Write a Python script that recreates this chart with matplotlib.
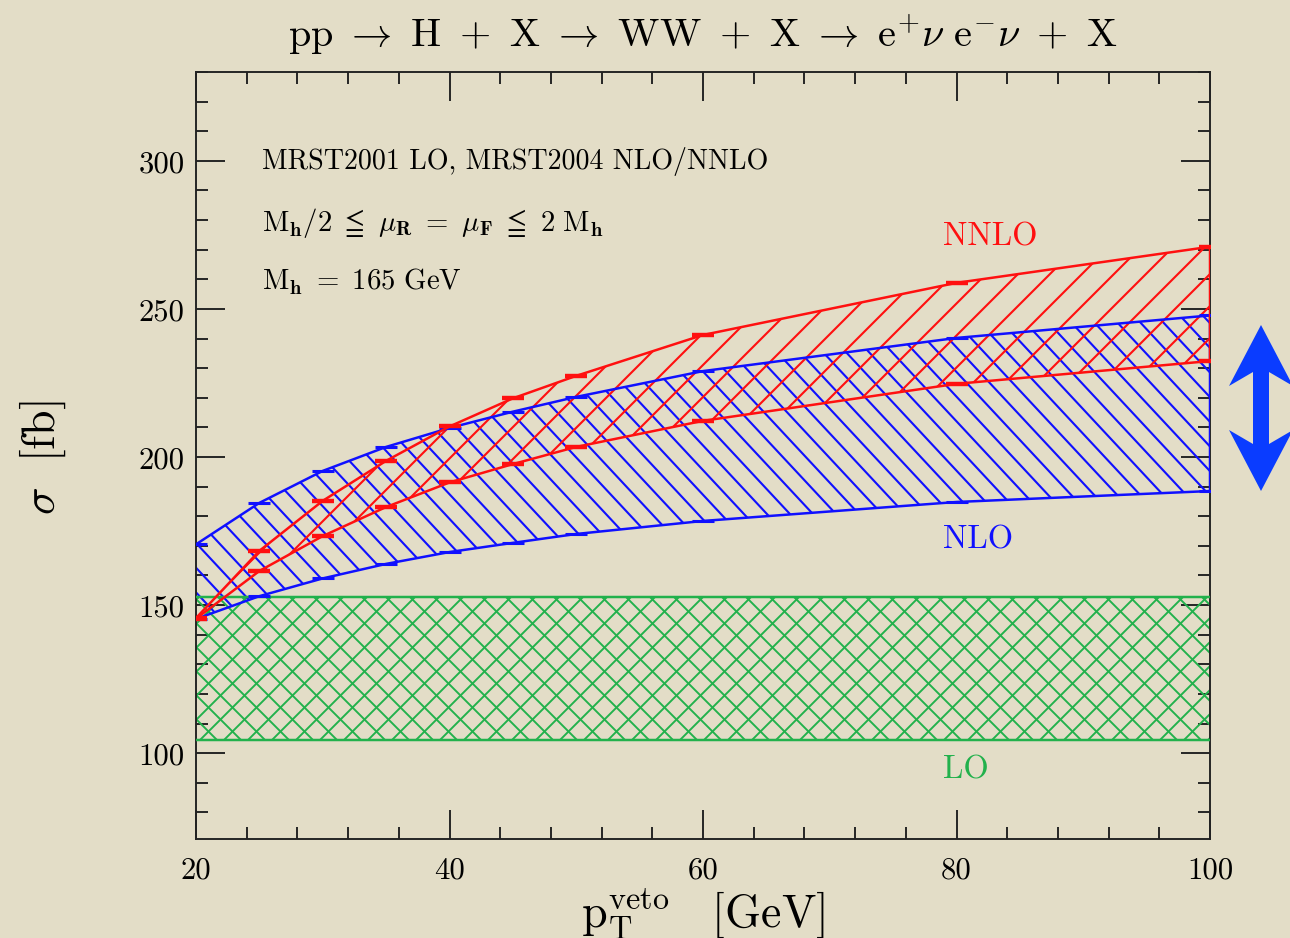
import numpy as np
import matplotlib
matplotlib.use("Agg")
import matplotlib.pyplot as plt
from matplotlib.collections import LineCollection
from matplotlib.patches import Polygon
from matplotlib.ticker import MultipleLocator

# cross sections [fb] vs. jet-veto pT [GeV]
pt_veto = [20, 25, 30, 35, 40, 45, 50, 60, 80, 100]
nlo_hi = [170.5, 184.5, 195.3, 203.4, 209.8, 215.3, 220.3, 229.0, 240.2, 247.8]
nlo_lo = [145.3, 153.0, 159.0, 163.9, 167.9, 171.0, 174.0, 178.4, 184.8, 188.5]
nnlo_hi = [145.6, 168.3, 185.2, 198.7, 210.3, 219.8, 227.4, 241.2, 258.8, 271.0]
nnlo_lo = [145.4, 161.5, 173.3, 183.1, 191.4, 197.6, 203.4, 212.2, 224.7, 232.4]
lo_band = [104.4, 152.7]

xticks = [20, 40, 60, 80, 100]
yticks = [100, 150, 200, 250, 300]

BG = "#e3ddc7"
RED = "#ff1010"
BLUE = "#1010ff"
GREEN = "#22b14c"

plt.rcParams["mathtext.fontset"] = "cm"
plt.rcParams["axes.formatter.use_mathtext"] = True
FONT = "cmr10"

DPI = 138
fig = plt.figure(figsize=(1290 / DPI, 939 / DPI), dpi=DPI, facecolor=BG)
ax = fig.add_axes([196 / 1290, 99 / 939, 1014 / 1290, 767 / 939])
ax.set_facecolor("none")
ax.set_xlim(20, 100)
ax.set_ylim(71, 330)


def hatch(poly, spacing, direction, color, lw=1.1, angle=45):
    "Fill `poly` with parallel lines `spacing` pixels apart."
    W, H = ax.bbox.width, ax.bbox.height
    run = H / np.tan(np.radians(angle))
    segs = []
    for c in np.arange(-run - spacing, W + spacing, spacing):
        if direction > 0:
            segs.append([(c / W, 0), ((c + run) / W, 1)])
        else:
            segs.append([(c / W, 1), ((c + run) / W, 0)])
    lc = LineCollection(segs, colors=color, linewidths=lw,
                        transform=ax.transAxes, zorder=2)
    ax.add_collection(lc, autolim=False)
    lc.set_clip_path(poly.get_paths()[0], ax.transData)


x = np.array(pt_veto)

# LO band
lo_poly = ax.fill_between([20, 100], lo_band[0], lo_band[1],
                          facecolor="none", edgecolor="none")
hatch(lo_poly, 24, 1, GREEN, lw=1.0)
hatch(lo_poly, 24, -1, GREEN, lw=1.0)
ax.axhline(lo_band[0], color=GREEN, lw=1.3, zorder=3)
ax.axhline(lo_band[1], color=GREEN, lw=1.3, zorder=3)

# NLO band
nlo_poly = ax.fill_between(x, nlo_lo, nlo_hi, facecolor="none", edgecolor="none")
hatch(nlo_poly, 23, -1, BLUE, lw=1.1, angle=47)
ax.plot(x, nlo_hi, color=BLUE, lw=1.3, zorder=4)
ax.plot(x, nlo_lo, color=BLUE, lw=1.3, zorder=4)
ax.vlines(x[-1], nlo_lo[-1], nlo_hi[-1], color=BLUE, lw=1.3, zorder=4)
ax.plot(x, nlo_hi, ls="none", marker="_", ms=11, mew=1.6, color=BLUE, zorder=4)
ax.plot(x, nlo_lo, ls="none", marker="_", ms=11, mew=1.6, color=BLUE, zorder=4)

# NNLO band
nnlo_poly = ax.fill_between(x, nnlo_lo, nnlo_hi, facecolor="none", edgecolor="none")
hatch(nnlo_poly, 32, 1, RED, lw=1.1)
ax.plot(x, nnlo_hi, color=RED, lw=1.3, zorder=5)
ax.plot(x, nnlo_lo, color=RED, lw=1.3, zorder=5)
ax.vlines(x[-1], nnlo_lo[-1], nnlo_hi[-1], color=RED, lw=1.3, zorder=5)
ax.plot(x, nnlo_hi, ls="none", marker="_", ms=11, mew=2.3, color=RED, zorder=5)
ax.plot(x, nnlo_lo, ls="none", marker="_", ms=11, mew=2.3, color=RED, zorder=5)

# band labels
ax.text(78.9, 274.5, "NNLO", color=RED, fontsize=17, family=FONT, va="center")
ax.text(78.9, 172.3, "NLO", color=BLUE, fontsize=17, family=FONT, va="center")
ax.text(78.9, 94.6, "LO", color=GREEN, fontsize=17, family=FONT, va="center")

# info text
ax.text(25.2, 300, "MRST2001 LO, MRST2004 NLO/NNLO", fontsize=14.6,
        family=FONT, va="center")
ax.text(25.2, 279.5,
        r"$\mathrm{M_{\mathbf{h}}/2\ \leqq\ }\mu_{\mathbf{R}}\mathrm{\ =\ }\mu_{\mathbf{F}}"
        r"\mathrm{\ \leqq\ 2\ M_{\mathbf{h}}}$",
        fontsize=15, va="center")
ax.text(25.2, 259.5, r"$\mathrm{M_{\mathbf{h}}\ =\ 165\ GeV}$", fontsize=15,
        va="center")

# axes, ticks
for s in ax.spines.values():
    s.set_linewidth(1.0)
    s.set_color("#222222")
ax.set_xticks(xticks)
ax.set_xticklabels([str(t) for t in xticks], family=FONT, fontsize=16)
ax.set_yticks(yticks)
ax.set_yticklabels([str(t) for t in yticks], family=FONT, fontsize=16)
ax.xaxis.set_minor_locator(MultipleLocator(4))
ax.yaxis.set_minor_locator(MultipleLocator(10))
ax.tick_params(which="both", direction="in", top=True, right=True,
               color="#222222", width=1.0)
ax.tick_params(which="major", length=15)
ax.tick_params(which="minor", length=6.5)
ax.tick_params(axis="x", which="major", pad=9)
ax.tick_params(axis="y", which="major", pad=6)

fig.text(0.545, 0.962,
         r"$\mathrm{pp\ \rightarrow\ H\ +\ X\ \rightarrow\ WW\ +\ X\ \rightarrow\ e^{+}}\nu"
         r"\mathrm{\ e^{-}}\nu\mathrm{\ +\ X}$",
         ha="center", va="center", fontsize=21)
fig.text(0.545, 0.027, r"$\mathrm{p_T^{veto}\ \ \ [GeV]}$", ha="center",
         va="center", fontsize=24)
fig.text(0.033, 0.513, r"$\sigma\mathrm{\ \ [fb]}$", ha="center", va="center",
         fontsize=24, rotation=90)

# big double arrow on the right
cx, top, bot = 1261, 326, 492
hw, sw, hl = 32, 8, 61
pts = [(cx, top), (cx + hw, top + hl), (cx + sw, top + hl - 14),
       (cx + sw, bot - hl + 14), (cx + hw, bot - hl), (cx, bot),
       (cx - hw, bot - hl), (cx - sw, bot - hl + 14), (cx - sw, top + hl - 14),
       (cx - hw, top + hl)]
pts = [(px / 1290, 1 - py / 939) for px, py in pts]
fig.patches.append(Polygon(pts, closed=True, transform=fig.transFigure,
                           facecolor="#0a3cff", edgecolor="none"))

fig.savefig("out.png", dpi=DPI, facecolor=BG)
